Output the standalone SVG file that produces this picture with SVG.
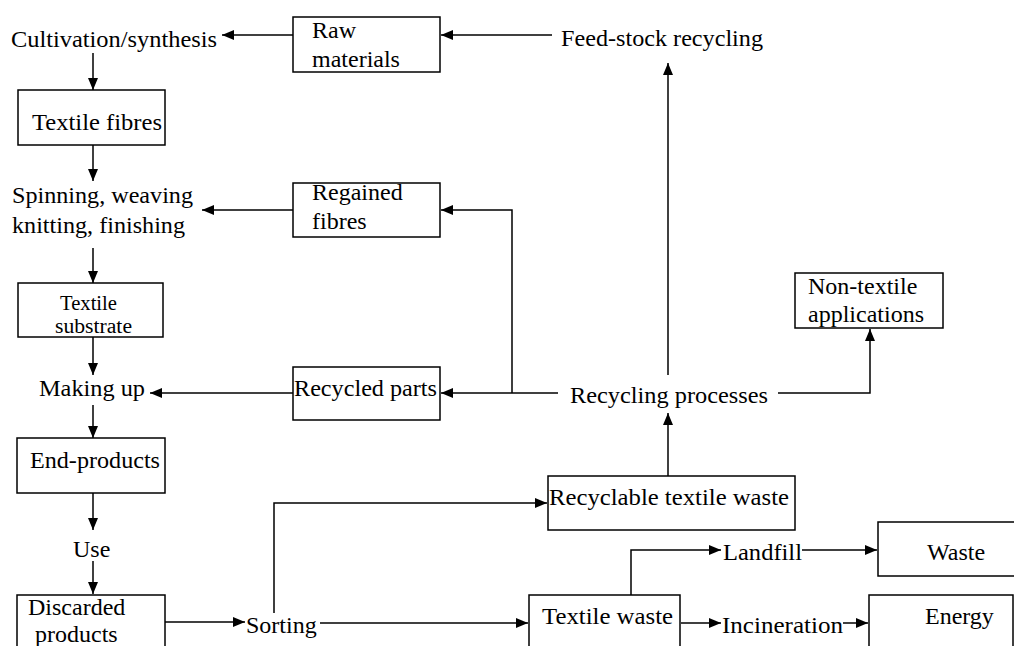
<svg xmlns="http://www.w3.org/2000/svg" width="1014" height="646" viewBox="0 0 1014 646">
<style>
.box{fill:#fff;stroke:#000;stroke-width:1.5}
text{font-family:"Times New Roman","Liberation Serif","DejaVu Serif",serif;font-size:24px;fill:#000}
text.s{font-size:20px}
.c{fill:none;stroke:#000;stroke-width:1.5}
</style>
<defs>
<marker id="a" markerUnits="userSpaceOnUse" markerWidth="12" markerHeight="10" refX="12" refY="5" orient="auto">
<path d="M0,0 L12,5 L0,10 z" fill="#000"/>
</marker>
</defs>
<rect width="1014" height="646" fill="#fff"/>
<g id="connectors">
<path class="c" d="M293,35 H222" marker-end="url(#a)"/>
<path class="c" d="M552,35 H441" marker-end="url(#a)"/>
<path class="c" d="M93,53 V90" marker-end="url(#a)"/>
<path class="c" d="M93,145 V181" marker-end="url(#a)"/>
<path class="c" d="M293,210 H202" marker-end="url(#a)"/>
<path class="c" d="M93,248 V283" marker-end="url(#a)"/>
<path class="c" d="M93,337 V375" marker-end="url(#a)"/>
<path class="c" d="M293,393 H150" marker-end="url(#a)"/>
<path class="c" d="M93,405 V438" marker-end="url(#a)"/>
<path class="c" d="M93,493 V530" marker-end="url(#a)"/>
<path class="c" d="M93,561 V594" marker-end="url(#a)"/>
<path class="c" d="M165,622 H245" marker-end="url(#a)"/>
<path class="c" d="M274,613 V503 H547" marker-end="url(#a)"/>
<path class="c" d="M320,623 H528" marker-end="url(#a)"/>
<path class="c" d="M631,595 V550 H721" marker-end="url(#a)"/>
<path class="c" d="M802,550 H877" marker-end="url(#a)"/>
<path class="c" d="M681,623 H721" marker-end="url(#a)"/>
<path class="c" d="M843,623 H868" marker-end="url(#a)"/>
<path class="c" d="M668,476 V413" marker-end="url(#a)"/>
<path class="c" d="M558,393 H441" marker-end="url(#a)"/>
<path class="c" d="M512,393 V210 H441" marker-end="url(#a)"/>
<path class="c" d="M668,375 V63" marker-end="url(#a)"/>
<path class="c" d="M778,393 H870 V329" marker-end="url(#a)"/>
</g>
<g id="cultivation"><text x="11" y="47" textLength="206" lengthAdjust="spacingAndGlyphs">Cultivation/synthesis</text></g>
<g id="raw-materials"><rect class="box" x="293" y="17" width="147" height="55"/><text x="312" y="38">Raw</text><text x="312" y="67">materials</text></g>
<g id="feedstock"><text x="561" y="46" textLength="202" lengthAdjust="spacingAndGlyphs">Feed-stock recycling</text></g>
<g id="textile-fibres"><rect class="box" x="18" y="90" width="147" height="55"/><text x="32" y="130" textLength="130" lengthAdjust="spacingAndGlyphs">Textile fibres</text></g>
<g id="spinning"><text x="12" y="203" textLength="181" lengthAdjust="spacingAndGlyphs">Spinning, weaving</text><text x="12" y="233" textLength="173" lengthAdjust="spacingAndGlyphs">knitting, finishing</text></g>
<g id="regained-fibres"><rect class="box" x="293" y="183" width="147" height="54"/><text x="312" y="200">Regained</text><text x="312" y="229">fibres</text></g>
<g id="textile-substrate"><rect class="box" x="18" y="283" width="145" height="54"/><text class="s" x="60" y="310" textLength="57" lengthAdjust="spacingAndGlyphs">Textile</text><text class="s" x="55" y="333" textLength="77" lengthAdjust="spacingAndGlyphs">substrate</text></g>
<g id="making-up"><text x="39" y="396" textLength="106" lengthAdjust="spacingAndGlyphs">Making up</text></g>
<g id="recycled-parts"><rect class="box" x="293" y="367" width="147" height="53"/><text x="294" y="396" textLength="143" lengthAdjust="spacingAndGlyphs">Recycled parts</text></g>
<g id="recycling-processes"><text x="570" y="403" textLength="198" lengthAdjust="spacingAndGlyphs">Recycling processes</text></g>
<g id="non-textile"><rect class="box" x="795" y="273" width="148" height="55"/><text x="808" y="294">Non-textile</text><text x="808" y="322">applications</text></g>
<g id="end-products"><rect class="box" x="17" y="438" width="148" height="55"/><text x="30" y="468" textLength="130" lengthAdjust="spacingAndGlyphs">End-products</text></g>
<g id="use"><text x="73" y="557">Use</text></g>
<g id="discarded"><rect class="box" x="17" y="595" width="148" height="62"/><text x="28" y="615">Discarded</text><text x="35" y="642">products</text></g>
<g id="sorting"><text x="246" y="633">Sorting</text></g>
<g id="recyclable"><rect class="box" x="548" y="476" width="247" height="54"/><text x="549" y="505" textLength="240" lengthAdjust="spacingAndGlyphs">Recyclable textile waste</text></g>
<g id="textile-waste"><rect class="box" x="529" y="595" width="151" height="62"/><text x="542" y="624" textLength="131" lengthAdjust="spacingAndGlyphs">Textile waste</text></g>
<g id="landfill"><text x="723" y="560" textLength="79" lengthAdjust="spacingAndGlyphs">Landfill</text></g>
<g id="waste"><rect class="box" x="878" y="522" width="140" height="54"/><text x="927" y="560">Waste</text></g>
<g id="incineration"><text x="722" y="633" textLength="121" lengthAdjust="spacingAndGlyphs">Incineration</text></g>
<g id="energy"><rect class="box" x="869" y="595" width="144" height="62"/><text x="925" y="624">Energy</text></g>
</svg>
